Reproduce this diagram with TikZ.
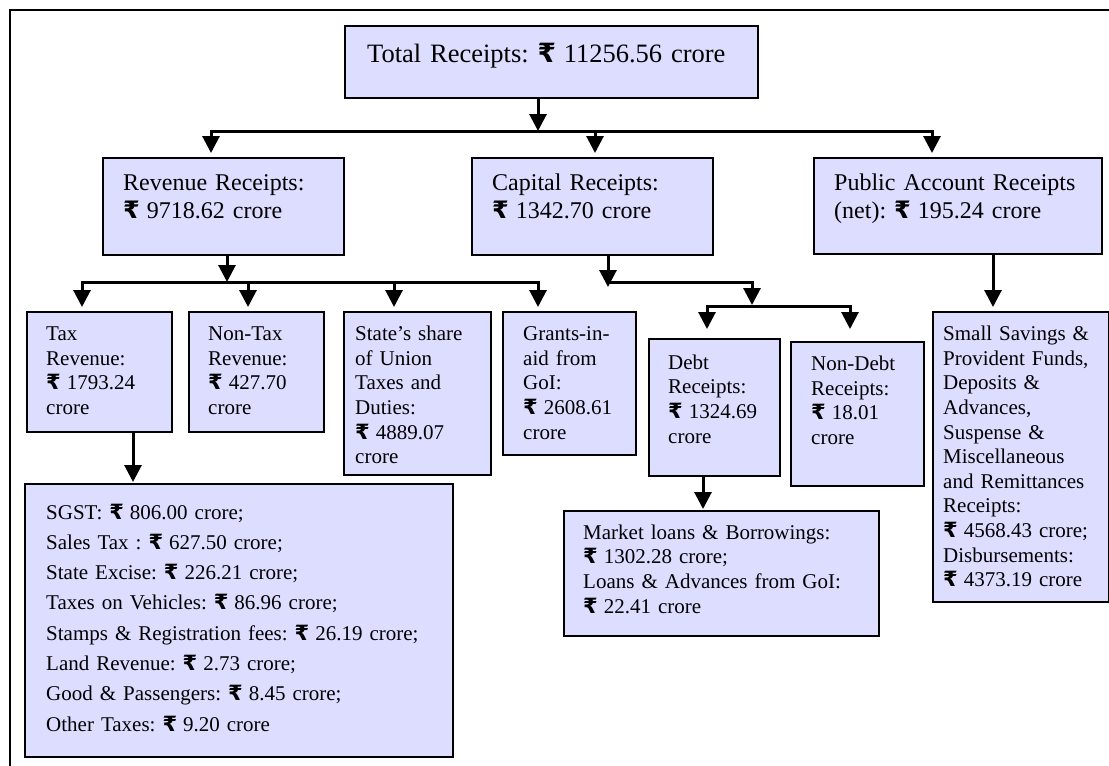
\documentclass[tikz,border=0pt]{standalone}
\usepackage{fontspec}
\setmainfont{Liberation Serif}
\newfontfamily\rupeefont{DejaVu Sans}
\usetikzlibrary{arrows.meta}
\newcommand\Rs{{\rupeefont\bfseries ₹}\hspace{-1pt}}
\definecolor{boxfill}{RGB}{221,221,255}
\frenchspacing
\begin{document}
\frenchspacing
\begin{tikzpicture}[x=1pt,y=-1pt,
  box/.style={draw=black, line width=2pt, fill=boxfill, rectangle, inner sep=0pt, anchor=north west},
  txt/.style={anchor=base west, inner sep=0pt, align=left, text width=420pt},
  big/.style={font=\fontsize{26.5}{31}\selectfont},
  mid/.style={font=\fontsize{24}{28.6}\selectfont},
  sml/.style={font=\fontsize{21}{24.6}\selectfont},
  wide/.style={font=\fontsize{21}{30.3}\selectfont},
  arr/.style={line width=3pt, -{Triangle[length=17pt,width=17pt]}},
  frame/.style={line width=1.8pt, draw=black}]
\useasboundingbox (0,0) rectangle (1109,766);
\draw[frame] (10,766) -- (10,10) -- (1109,10);

% boxes
\node[box, minimum width=413pt, minimum height=72pt] (total) at (344,25) {};
\node[box, minimum width=241pt, minimum height=97pt] (rev) at (102,157) {};
\node[box, minimum width=241pt, minimum height=97pt] (cap) at (471,157) {};
\node[box, minimum width=288pt, minimum height=96pt] (pub) at (813,157) {};
\node[box, minimum width=145pt, minimum height=120pt] (tax) at (26,311) {};
\node[box, minimum width=135pt, minimum height=120pt] (ntax) at (188,311) {};
\node[box, minimum width=147pt, minimum height=163pt] (share) at (343,311) {};
\node[box, minimum width=133pt, minimum height=143pt] (grant) at (502,311) {};
\node[box, minimum width=131pt, minimum height=137pt] (debt) at (648,338) {};
\node[box, minimum width=133pt, minimum height=144pt] (ndebt) at (790,341) {};
\node[box, minimum width=175.5pt, minimum height=290pt] (psub) at (932,311) {};
\node[box, minimum width=315pt, minimum height=125pt] (mkt) at (563,510) {};
\node[box, minimum width=428pt, minimum height=273pt] (sgst) at (24,483) {};

% texts
\node[txt, big] (totalT) at (367,62) {Total Receipts: \Rs{} 11256.56 crore};
\node[txt, mid] (revT) at (123,190) {Revenue Receipts:\\\Rs{} 9718.62 crore};
\node[txt, mid] (capT) at (492,190) {Capital Receipts:\\\Rs{} 1342.70 crore};
\node[txt, mid] (pubT) at (834,190) {Public Account Receipts\\(net): \Rs{} 195.24 crore};
\node[txt, sml] (taxT) at (46,340.7) {Tax\\Revenue:\\\Rs{} 1793.24\\crore};
\node[txt, sml] (ntaxT) at (208,340.7) {Non-Tax\\Revenue:\\\Rs{} 427.70\\crore};
\node[txt, sml] (shareT) at (355,340.7) {State’s share\\of Union\\Taxes and\\Duties:\\\Rs{} 4889.07\\crore};
\node[txt, sml] (grantT) at (523,340.7) {Grants-in-\\aid from\\GoI:\\\Rs{} 2608.61\\crore};
\node[txt, sml] (debtT) at (668,369.3) {Debt\\Receipts:\\\Rs{} 1324.69\\crore};
\node[txt, sml] (ndebtT) at (811,370.7) {Non-Debt\\Receipts:\\\Rs{} 18.01\\crore};
\node[txt, sml] (psubT) at (943,340.7) {Small Savings \&\\Provident Funds,\\Deposits \&\\Advances,\\Suspense \&\\Miscellaneous\\and Remittances\\Receipts:\\\Rs{} 4568.43 crore;\\Disbursements:\\\Rs{} 4373.19 crore};
\node[txt, sml] (mktT) at (583,539.3) {Market loans \& Borrowings:\\\Rs{} 1302.28 crore;\\Loans \& Advances from GoI:\\\Rs{} 22.41 crore};
\node[txt, wide] (sgstT) at (46,519) {SGST: \Rs{} 806.00 crore;\\Sales Tax : \Rs{} 627.50 crore;\\State Excise: \Rs{} 226.21 crore;\\Taxes on Vehicles: \Rs{} 86.96 crore;\\Stamps \& Registration fees: \Rs{} 26.19 crore;\\Land Revenue: \Rs{} 2.73 crore;\\Good \& Passengers: \Rs{} 8.45 crore;\\Other Taxes: \Rs{} 9.20 crore};

% connectors level 1
\coordinate (j0) at (538,131);
\coordinate (b1l) at (211,131);
\coordinate (b1m) at (595,131);
\coordinate (b1r) at (932,131);
\draw[arr] (total.south -| j0) -- (j0);
\draw[arr, shorten >=4pt] (j0) -- (b1l) -- (b1l |- rev.north);
\draw[arr, shorten >=4pt] (j0) -- (b1m) -- (b1m |- cap.north);
\draw[arr, shorten >=4pt] (b1m) -- (b1r) -- (b1r |- pub.north);

% revenue split
\coordinate (j1) at (227,282);
\coordinate (c1) at (82,282);
\coordinate (c2) at (248,282);
\coordinate (c3) at (394,282);
\coordinate (c4) at (538,282);
\draw[arr] (rev.south -| j1) -- (j1);
\draw[arr, shorten >=4pt] (c2) -- (c1) -- (c1 |- tax.north);
\draw[arr, shorten >=4pt] (c1) -- (c2) -- (c2 |- ntax.north);
\draw[arr, shorten >=4pt] (c2) -- (c4) -- (c4 |- grant.north);
\draw[arr, shorten >=4pt] (c3) -- (c3 |- share.north);

% capital split
\coordinate (k0) at (608,287);
\coordinate (k1) at (608,282);
\coordinate (k2) at (752,282);
\coordinate (k3) at (752,305);
\coordinate (m0) at (752,306);
\coordinate (m1) at (707,306);
\coordinate (m2) at (850,306);
\coordinate (d1) at (707,329);
\coordinate (d2) at (850,329);
\draw[arr] (cap.south -| k0) -- (k0);
\draw[arr] (k1) -- (k2) -- (k3);
\draw[arr] (m0) -- (m1) -- (d1);
\draw[arr] (m0) -- (m2) -- (d2);

% other arrows
\coordinate (p1) at (993,307);
\coordinate (q1) at (703,509);
\coordinate (r1) at (133,482);
\draw[arr] (pub.south -| p1) -- (p1);
\draw[arr] (debt.south -| q1) -- (q1);
\draw[arr] (tax.south -| r1) -- (r1);
\end{tikzpicture}
\end{document}
